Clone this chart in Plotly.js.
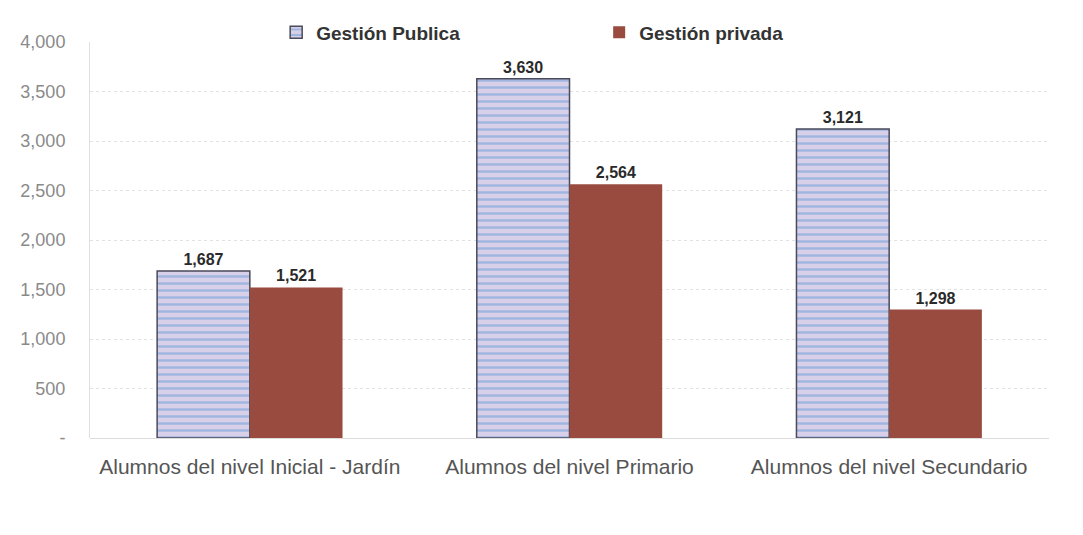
<!DOCTYPE html>
<html>
<head>
<meta charset="utf-8">
<script src="https://cdn.plot.ly/plotly-3.0.1.min.js"></script>
<style>html,body{margin:0;padding:0;background:#fff;}#chart{width:1083px;height:535px;}</style>
</head>
<body>
<div id="chart"></div>
<script>
const categories = ["Alumnos del nivel Inicial - Jardín", "Alumnos del nivel Primario", "Alumnos del nivel Secundario"];
const publica = [1687, 3630, 3121];
const privada = [1521, 2564, 1298];
const seriesNames = ["Gestión Publica", "Gestión privada"];
const yTickVals = [0, 500, 1000, 1500, 2000, 2500, 3000, 3500, 4000];
const yTickText = ["-", "500", "1,000", "1,500", "2,000", "2,500", "3,000", "3,500", "4,000"];

const fmt = v => v.toLocaleString("en-US");
const narrow = "'Liberation Sans Narrow', 'Arial Narrow', 'Liberation Sans', sans-serif";

const traces = [
  {
    type: "bar", name: seriesNames[0], x: categories, y: publica,
    text: publica.map(fmt), textposition: "outside", cliponaxis: false,
    textfont: {family: narrow, size: 16, color: "#2a2a2a", weight: "bold"},
    marker: {color: "#d6d0ec", line: {color: "#4a4a5a", width: 1.5},
      pattern: {shape: "-", fgcolor: "#9fb6e0", bgcolor: "#d8cfe8", size: 7, solidity: 0.35}}
  },
  {
    type: "bar", name: seriesNames[1], x: categories, y: privada,
    text: privada.map(fmt), textposition: "outside", cliponaxis: false,
    textfont: {family: narrow, size: 16, color: "#2a2a2a", weight: "bold"},
    marker: {color: "#9a4b40", line: {color: "#9a4b40", width: 0}}
  }
];

const layout = {
  width: 1083, height: 535,
  margin: {l: 90, r: 34, t: 42, b: 97, autoexpand: false},
  paper_bgcolor: "#ffffff", plot_bgcolor: "#ffffff",
  barmode: "group", bargap: 0.42, bargroupgap: 0,
  showlegend: true,
  legend: {orientation: "h", x: 0.255, xref: "container", xanchor: "left",
    y: 0.975, yref: "container", yanchor: "top",
    font: {family: narrow, size: 19, color: "#333", weight: "bold"}, itemwidth: 30,
    traceorder: "normal", entrywidth: 278},
  xaxis: {
    type: "category", showgrid: false, zeroline: false, showline: false,
    ticks: "", ticklabelstandoff: 14, tickfont: {family: narrow, size: 21, color: "#555"}
  },
  yaxis: {
    range: [0, 4000], tickvals: yTickVals, ticktext: yTickText,
    showgrid: true, gridcolor: "#e2e2e2", griddash: "dot", gridwidth: 1,
    zeroline: true, zerolinecolor: "#dcdcdc",
    showline: true, linecolor: "#e0e0e0", ticks: "", ticklen: 0,
    ticklabelstandoff: 20,
    tickfont: {family: narrow, size: 18, color: "#8a8a8a"}
  }
};

Plotly.newPlot("chart", traces, layout, {displayModeBar: false, staticPlot: true});
</script>
</body>
</html>
